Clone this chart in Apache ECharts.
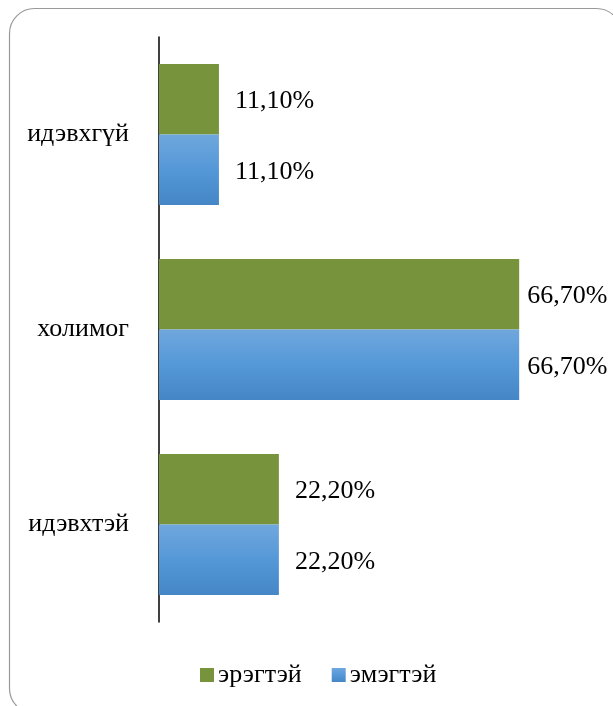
<!DOCTYPE html>
<html><head><meta charset="utf-8">
<script src="https://cdn.jsdelivr.net/npm/echarts@6/dist/echarts.min.js"></script>
<style>html,body{margin:0;padding:0;background:#fff}#c{width:613px;height:706px}</style>
</head><body><div id="c"></div>
<script>
const categories = ['идэвхтэй', 'холимог', 'идэвхгүй'];
const seriesNames = ['эрэгтэй', 'эмэгтэй'];
const maleValues = [22.2, 66.7, 11.1];
const femaleValues = [22.2, 66.7, 11.1];

const font = 'Liberation Serif';
const fmt = v => v.toFixed(2).replace('.', ',') + '%';
function items(vals) {
  return vals.map(v => ({ value: v, label: { distance: v > 60 ? 8 : 16 } }));
}
const chart = echarts.init(document.getElementById('c'));
chart.setOption({
  animation: false,
  graphic: [{
    type: 'rect', shape: { x: 9.5, y: 8.5, width: 612, height: 705, r: 25 },
    style: { fill: 'none', stroke: '#999', lineWidth: 1.2 }, silent: true, z: -1
  }],
  grid: { left: 159, top: 37, width: 378, height: 585 },
  xAxis: { type: 'value', min: 0, max: 70, show: false },
  yAxis: {
    type: 'category', data: categories,
    axisLine: { lineStyle: { color: '#111', width: 1.6 } },
    axisTick: { show: false },
    axisLabel: { margin: 30, color: '#000', fontFamily: font, fontSize: 26, padding: [6, 0, 0, 0] }
  },
  legend: {
    data: seriesNames, left: 195, top: 657, itemWidth: 14, itemHeight: 14, itemGap: 30,
    icon: 'rect',
    textStyle: { color: '#000', fontFamily: font, fontSize: 26, padding: [0, 0, 0, -1] }
  },
  series: [
    {
      name: seriesNames[0], type: 'bar', data: items(maleValues), barWidth: 70.5, barGap: '0%',
      itemStyle: { color: '#77933C' },
      label: { show: true, position: 'right', offset: [0, 2], color: '#000', fontFamily: font, fontSize: 26, formatter: p => fmt(p.value) }
    },
    {
      name: seriesNames[1], type: 'bar', data: items(femaleValues), barWidth: 70.5, barGap: '0%',
      itemStyle: { color: new echarts.graphic.LinearGradient(0, 0, 0, 1, [
        { offset: 0, color: '#6FA7DD' }, { offset: 0.5, color: '#5598D8' }, { offset: 1, color: '#4486C6' }]) },
      label: { show: true, position: 'right', offset: [0, 2], color: '#000', fontFamily: font, fontSize: 26, formatter: p => fmt(p.value) }
    }
  ]
});
</script></body></html>
